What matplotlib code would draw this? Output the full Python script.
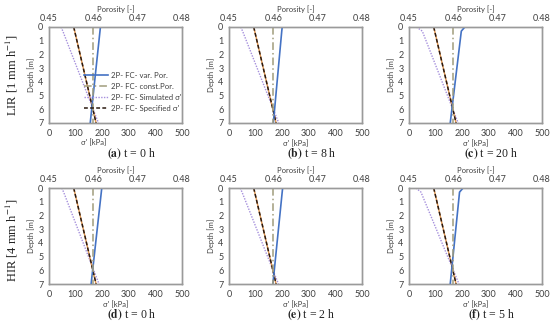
import numpy as np
import matplotlib
matplotlib.use("Agg")
from matplotlib import pyplot as plt

plt.rcParams['font.family'] = ['Lato', 'DejaVu Sans']
plt.rcParams['mathtext.fontset'] = 'stix'

# depth points [m] (top, just below surface, bottom)
depth = [0, 0.3, 7]

# panel captions
panel_tags = ['(a)', '(b)', '(c)', '(d)', '(e)', '(f)']
panel_times = ['t = 0 h', 't = 8 h', 't = 20 h', 't = 0 h', 't = 2 h', 't = 5 h']
row_labels = [r'LIR [1 mm h$^{-1}$]', r'HIR [4 mm h$^{-1}$]']

# porosity [-] (top axis)
var_por = [
    [0.4616, 0.4615, 0.4593],
    [0.4620, 0.4619, 0.4600],
    [0.4626, 0.4618, 0.4593],
    [0.4619, 0.4618, 0.4595],
    [0.4621, 0.4620, 0.4599],
    [0.4622, 0.4614, 0.4593],
]
const_por = [0.46, 0.46, 0.46]

# effective stress [kPa] (bottom axis)
sigma_sim = [
    [45, 52, 186],
    [44, 51, 187],
    [28, 50, 185],
    [48, 55, 188],
    [42, 49, 186],
    [26, 45, 188],
]
sigma_spec = [93, 96.5, 177]

por_ticks = [0.45, 0.46, 0.47, 0.48]
sig_ticks = [0, 100, 200, 300, 400, 500]
depth_ticks = list(range(8))

W, H = 550, 325
fig = plt.figure(figsize=(5.5, 3.25), dpi=100)

lefts = [49, 229, 409]
tops = [27, 188]
aw, ah = 133, 96
tick_col = '#404040'
spine_col = '#9a9a9a'

for i in range(6):
    r, c = divmod(i, 3)
    ax = fig.add_axes([lefts[c] / W, (H - tops[r] - ah) / H, aw / W, ah / H])
    ax2 = ax.twiny()

    l3, = ax.plot(sigma_sim[i], depth, color='#a58fdc', lw=1.0, ls=(0, (1, 1)),
                  label="2P- FC- Simulated σ'")
    ax.plot(sigma_spec, depth, color='#e0954f', lw=1.0)
    l4, = ax.plot(sigma_spec, depth, color='#2b1a10', lw=1.1, ls=(0, (2.5, 1.5)),
                  label="2P- FC- Specified σ'")
    l1, = ax2.plot(var_por[i], depth, color='#4472c4', lw=1.2,
                   label='2P- FC- var. Por.')
    l2, = ax2.plot(const_por, depth, color='#a09c7c', lw=1.1, ls=(0, (5, 2, 1, 2)),
                   label='2P- FC- const.Por.')

    ax.set_xlim(0, 500)
    ax2.set_xlim(0.45, 0.48)
    ax.set_ylim(7, 0)
    ax.set_xticks(sig_ticks)
    ax2.set_xticks(por_ticks)
    ax2.set_xticklabels(['%.2f' % p for p in por_ticks])
    ax.set_yticks(depth_ticks)

    for a in (ax, ax2):
        a.tick_params(length=0, labelsize=6.5, colors=tick_col, pad=4.5)
        for s in a.spines.values():
            s.set_color(spine_col)
            s.set_linewidth(1.0)
    ax.tick_params(axis='y', pad=4)
    ax2.tick_params(axis='x', pad=3)

    ax.set_xlabel("σ' [kPa]", fontsize=5.5, color=tick_col, labelpad=1)
    ax2.set_xlabel('Porosity [-]', fontsize=5.5, color=tick_col, labelpad=1.5)
    ax.set_ylabel('Depth [m]', fontsize=5.5, color=tick_col, labelpad=2)
    if i == 0:
        ax.xaxis.set_label_coords(0.34, -0.17)

    if i == 0:
        ax2.legend(handles=[l1, l2, l3, l4], loc='lower right',
                   bbox_to_anchor=(1.03, 0.07), frameon=False, fontsize=5.6,
                   handlelength=3.2, handletextpad=0.3, labelspacing=0.5,
                   borderpad=0.1, labelcolor=tick_col)

    # caption under each panel
    cx = (lefts[c] + aw / 2 + 16) / W
    cy = (H - tops[r] - 127) / H
    fig.text(cx, cy, r'$\mathbf{%s}$ %s' % (panel_tags[i], panel_times[i]),
             ha='center', va='center', fontsize=8.5, family='Liberation Serif',
             color='#222222')

# row labels
fig.text(12 / W, (H - 75) / H, row_labels[0], rotation=90, ha='center',
         va='center', fontsize=9, family='Liberation Serif', color='#222222')
fig.text(12 / W, (H - 240) / H, row_labels[1], rotation=90, ha='center',
         va='center', fontsize=9, family='Liberation Serif', color='#222222')

fig.savefig('out.png', dpi=100)
